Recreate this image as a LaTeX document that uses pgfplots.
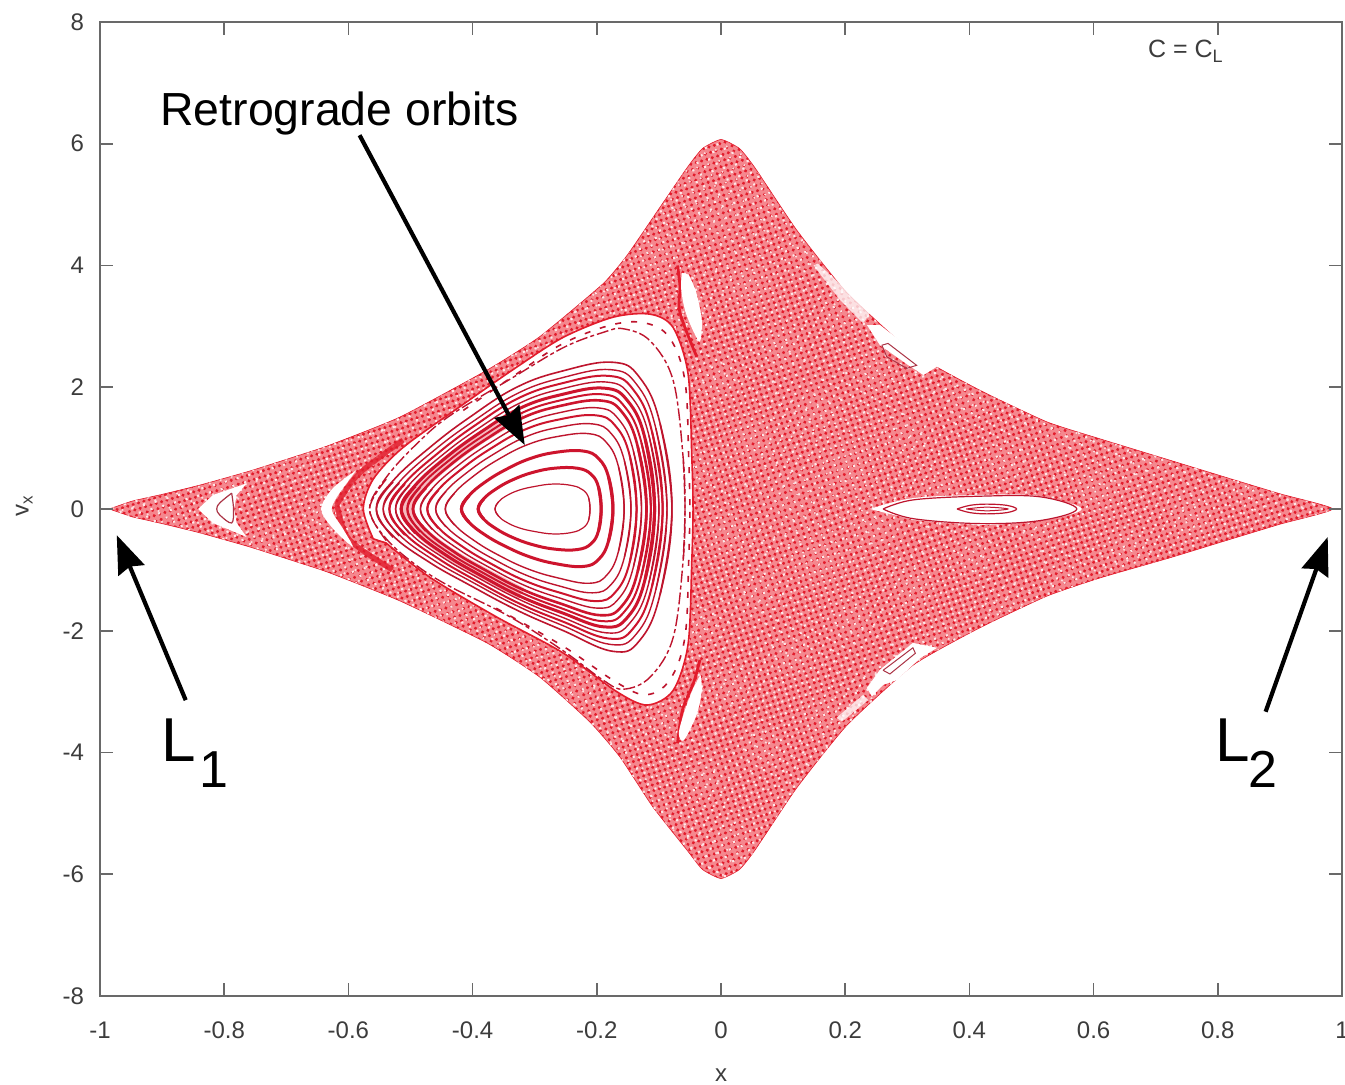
\documentclass[border=0pt]{standalone}
\usepackage{pgfplots}
\pgfplotsset{compat=1.18}
\usepackage{pgfplotstable}
\usepackage{fontspec}
\setmainfont{Liberation Sans}
\usetikzlibrary{arrows.meta,patterns.meta}
\definecolor{seabase}{RGB}{245,135,142}
\definecolor{seadark}{RGB}{226,28,44}
\definecolor{orbred}{RGB}{190,20,45}
\definecolor{thickred}{RGB}{205,20,45}
\definecolor{axgray}{RGB}{105,105,105}
\definecolor{txtgray}{RGB}{60,60,60}
\pgfplotstableread{
x y
-.985 0
-.948 .13
-.9 .24
-.84 .39
-.76 .62
-.678 .887
-.63 1.05
-.517 1.51
-.377 2.28
-.292 2.83
-.19 3.7
-.151 4.17
-.11 4.78
-.055 5.6
-.03 5.92
0 6.07
.03 5.92
.055 5.6
.122 4.58
.203 3.55
.31 2.56
.417 1.95
.525 1.43
.611 1.15
.72 .81
.8 .56
.9 .25
.985 0
.9 -.25
.8 -.56
.72 -.81
.611 -1.13
.525 -1.43
.417 -1.95
.31 -2.56
.203 -3.55
.122 -4.58
.055 -5.6
.03 -5.92
0 -6.07
-.03 -5.92
-.055 -5.6
-.11 -4.89
-.163 -4.07
-.211 -3.5
-.292 -2.76
-.377 -2.2
-.517 -1.51
-.63 -1.05
-.678 -.887
-.76 -.62
-.84 -.39
-.9 -.24
-.948 -.13
}\sea
\pgfplotstableread{
x y yl
-.358 -.12 -.12
-.364 0 0
-.358 .12 .12
-.345 .22 .22
-.325 .31 .31
-.30 .37 .37
-.27 .41 .41
-.24 .385 .385
-.222 .31 .31
-.213 .18 .18
-.211 0 0
-.213 -.18 -.18
}\oa
\pgfplotstableread{
x y yl
-.382 -.168 -.167
-.391 0 0
-.382 .168 .167
-.362 .331 .325
-.336 .477 .466
-.304 .598 .584
-.268 .670 .659
-.231 .669 .666
-.209 .569 .569
-.197 .351 .351
-.193 0 0
-.197 -.351 -.351
}\ob
\pgfplotstableread{
x y yl
-.406 -.217 -.214
-.418 0 0
-.406 .217 .214
-.380 .441 .425
-.347 .645 .614
-.308 .826 .786
-.266 .931 .899
-.222 .952 .944
-.197 .828 .828
-.181 .522 .522
-.174 0 0
-.181 -.522 -.522
}\oc
\pgfplotstableread{
x y yl
-.429 -.265 -.259
-.444 0 0
-.429 .265 .259
-.397 .552 .522
-.359 .812 .754
-.312 1.055 .980
-.263 1.191 1.131
-.212 1.236 1.220
-.184 1.087 1.087
-.165 .692 .692
-.156 0 0
-.165 -.692 -.692
}\od
\pgfplotstableread{
x y yl
-.443 -.2925 -.285
-.4595 0 0
-.443 .2925 .285
-.407 .615 .575
-.365 .9075 .830
-.3145 1.185 1.084
-.262 1.34 1.26
-.207 1.3975 1.377
-.1765 1.235 1.235
-.1555 .79 .79
-.145 0 0
-.1555 -.79 -.79
}\oe
\pgfplotstableread{
x y yl
-.455 -.317 -.308
-.473 0 0
-.455 .317 .308
-.416 .670 .620
-.371 .991 .895
-.317 1.299 1.173
-.261 1.470 1.370
-.202 1.539 1.513
-.170 1.365 1.365
-.147 .875 .875
-.136 0 0
-.147 -.875 -.875
}\of
\pgfplotstableread{
x y yl
-.465 -.337 -.326
-.484 0 0
-.465 .337 .326
-.423 .718 .659
-.375 1.063 .949
-.318 1.397 1.248
-.260 1.582 1.462
-.198 1.661 1.629
-.165 1.476 1.476
-.141 .949 .949
-.128 0 0
-.141 -.949 -.949
}\og
\pgfplotstableread{
x y yl
-.475 -.358 -.345
-.496 0 0
-.475 .358 .345
-.431 .765 .696
-.380 1.135 1.002
-.320 1.495 1.320
-.259 1.693 1.552
-.194 1.782 1.745
-.159 1.587 1.587
-.134 1.022 1.022
-.120 0 0
-.134 -1.022 -1.022
}\oh
\pgfplotstableread{
x y yl
-.484 -.375 -.361
-.505 0 0
-.484 .375 .361
-.437 .805 .728
-.384 1.194 1.044
-.321 1.576 1.377
-.258 1.786 1.627
-.191 1.884 1.843
-.155 1.679 1.679
-.128 1.083 1.083
-.113 0 0
-.128 -1.083 -1.083
}\oi
\pgfplotstableread{
x y yl
-.492 -.393 -.377
-.515 0 0
-.492 .393 .377
-.443 .844 .757
-.388 1.254 1.086
-.323 1.658 1.436
-.257 1.879 1.701
-.188 1.985 1.937
-.150 1.772 1.772
-.122 1.144 1.144
-.107 0 0
-.122 -1.144 -1.144
}\oj
\pgfplotstableread{
x y yl
-.501 -.410 -.393
-.524 0 0
-.501 .410 .393
-.449 .884 .788
-.392 1.314 1.126
-.324 1.739 1.490
-.257 1.972 1.773
-.185 2.086 2.034
-.146 1.864 1.864
-.116 1.205 1.205
-.100 0 0
-.116 -1.205 -1.205
}\ok
\pgfplotstableread{
x y yl
-.509 -.427 -.408
-.534 0 0
-.509 .427 .408
-.455 .923 .816
-.396 1.374 1.167
-.326 1.821 1.546
-.256 2.065 1.844
-.181 2.187 2.128
-.141 1.957 1.957
-.111 1.266 1.266
-.094 0 0
-.111 -1.266 -1.266
}\ol
\pgfplotstableread{
x y yl
-.518 -.444 -.423
-.544 0 0
-.518 .444 .423
-.462 .963 .845
-.400 1.433 1.204
-.327 1.902 1.598
-.255 2.158 1.914
-.178 2.289 2.225
-.136 2.049 2.049
-.105 1.327 1.327
-.087 0 0
-.105 -1.327 -1.327
}\om
\pgfplotstableread{
x y yl
-.528 -.465 -.442
-.555 0 0
-.528 .465 .442
-.469 1.01 .879
-.405 1.505 1.249
-.329 2.0 1.66
-.254 2.27 1.998
-.174 2.41 2.338
-.131 2.16 2.16
-.098 1.40 1.40
-.079 0 0
-.098 -1.40 -1.40
}\on
\pgfplotstableread{
x y yl
-.539 -.52 -.49
-.566 0 0
-.539 .52 .49
-.490 1.07 .93
-.437 1.53 1.27
-.340 2.13 1.77
-.254 2.65 2.33
-.190 2.90 2.81
-.157 2.96 2.96
-.114 2.76 2.76
-.077 2.11 2.11
-.061 .85 .85
-.058 0 0
-.061 -.85 -.85
}\dsh
\pgfplotstableread{
x y
-.560 -.49
-.576 0
-.560 .49
-.512 1.01
-.415 1.72
-.329 2.33
-.254 2.82
-.174 3.15
-.114 3.2
-.077 2.98
-.053 2.22
-.047 .85
-.045 0
-.047 -.85
-.053 -2.22
-.077 -2.98
-.119 -3.22
-.168 -3.0
-.255 -2.36
-.362 -1.77
-.469 -1.12
-.539 -.56
}\whitemain
\newcommand\orb[3]{%
\addplot[smooth,tension=.7,color=#3,line width=#2,forget plot] table[x=x,y=y] {#1};
\addplot[smooth,tension=.7,color=#3,line width=#2,forget plot] table[x=x,y expr=-\thisrow{yl}] {#1};}
\begin{document}
\begin{tikzpicture}
\useasboundingbox (0,0) rectangle (672.5pt,542pt);
\begin{axis}[
  at={(50pt,44pt)},anchor=south west,
  scale only axis,width=621pt,height=487pt,
  xmin=-1,xmax=1,ymin=-8,ymax=8,
  axis on top,
  axis line style={axgray,line width=1pt},
  tick style={axgray,line width=.8pt},
  major tick length=6.5pt,
  tick align=inside,
  xtick={-1,-.8,-.6,-.4,-.2,0,.2,.4,.6,.8,1},
  xticklabels={-1,-0.8,-0.6,-0.4,-0.2,0,0.2,0.4,0.6,0.8,1},
  ytick={-8,-6,-4,-2,0,2,4,6,8},
  yticklabels={-8,-6,-4,-2,0,2,4,6,8},
  ticklabel style={font=\fontsize{12}{14}\selectfont,text=txtgray},
  xticklabel style={yshift=-9.5pt},
  yticklabel style={xshift=-4.5pt},
  clip=false,
]
% chaotic sea
\addplot[smooth,tension=.3,fill=seabase,draw=seadark,line width=.3pt,forget plot] table[x=x,y=y] {\sea} --cycle;
\addplot[smooth,tension=.3,draw=none,pattern={Dots[radius=.85pt,distance=2.8pt,angle=17]},pattern color=seadark,forget plot] table[x=x,y=y] {\sea} --cycle;
\addplot[smooth,tension=.3,draw=none,pattern={Dots[radius=.75pt,distance=4.3pt,angle=61]},pattern color=white!80!seabase,forget plot] table[x=x,y=y] {\sea} --cycle;
\addplot[smooth,tension=.3,draw=none,pattern={Dots[radius=.6pt,distance=5.7pt,angle=107]},pattern color=white!70!seabase,forget plot] table[x=x,y=y] {\sea} --cycle;
% dense chevron next to the main island
\addplot[smooth,color=seadark,line width=2.6pt,opacity=.8,forget plot] coordinates {(-.512,1.13)(-.582,.59)(-.614,.15)(-.617,0)(-.598,-.51)(-.529,-1.0)};
% dense streaks beside the small islands
\addplot[smooth,color=seadark,line width=1.4pt,forget plot] coordinates {(-.07,4.0)(-.066,3.65)(-.066,3.22)(-.039,2.5)};
\addplot[smooth,color=seadark,line width=1.4pt,forget plot] coordinates {(-.034,-2.48)(-.044,-2.85)(-.062,-3.3)(-.07,-3.85)};
% main island
\addplot[smooth,tension=.5,fill=white,draw=seadark,line width=.8pt,forget plot] table[x=x,y=y] {\whitemain} --cycle;
% left crescent
\addplot[fill=white,draw=none,smooth,tension=.5,forget plot] coordinates {(-.587,.64)(-.625,.34)(-.644,0)(-.625,-.32)(-.593,-.62)(-.609,-.32)(-.627,0)(-.611,.31)} --cycle;
% left small island
\addplot[fill=white,draw=none,forget plot] coordinates {(-.764,.42)(-.818,.23)(-.842,0)(-.818,-.23)(-.764,-.46)(-.780,-.23)(-.784,0)(-.780,.23)} --cycle;
\addplot[color=orbred!70!gray,line width=.6pt,smooth,tension=.6,forget plot] coordinates {(-.788,.26)(-.807,.1)(-.812,0)(-.807,-.1)(-.788,-.23)(-.785,0)(-.788,.26)};
% small islands by the axis x=0
\addplot[fill=white,draw=none,smooth,tension=.5,forget plot] coordinates {(-.063,3.88)(-.064,3.6)(-.056,3.2)(-.035,2.75)(-.031,3.1)(-.04,3.56)(-.052,3.85)} --cycle;
\addplot[fill=white,draw=none,smooth,tension=.5,forget plot] coordinates {(-.033,-2.72)(-.031,-3.0)(-.04,-3.4)(-.060,-3.8)(-.068,-3.68)(-.058,-3.3)(-.045,-2.95)} --cycle;
% upper right island
\addplot[fill=white,draw=none,forget plot] coordinates {(.235,3.02)(.256,2.69)(.302,2.36)(.326,2.20)(.348,2.34)(.305,2.64)(.256,3.02)} --cycle;
\addplot[fill=white,opacity=.75,draw=none,forget plot] coordinates {(.149,4.0)(.192,3.43)(.229,3.05)(.240,3.22)(.197,3.65)(.156,4.03)} --cycle;
\addplot[color=orbred!70!gray,line width=.5pt,forget plot] coordinates {(.259,2.69)(.269,2.72)(.315,2.36)(.299,2.31)(.267,2.50)(.259,2.69)};
% lower right island
\addplot[fill=white,draw=none,forget plot] coordinates {(.235,-2.94)(.256,-2.64)(.309,-2.2)(.348,-2.28)(.321,-2.45)(.283,-2.81)(.261,-2.89)(.243,-3.08)} --cycle;
\addplot[fill=white,opacity=.75,draw=none,forget plot] coordinates {(.186,-3.43)(.229,-3.05)(.237,-3.14)(.195,-3.49)} --cycle;
\addplot[color=orbred!70!gray,line width=.5pt,forget plot] coordinates {(.261,-2.65)(.309,-2.28)(.313,-2.37)(.272,-2.71)(.261,-2.65)};
% right island
\addplot[fill=white,draw=none,smooth,tension=.6,forget plot] coordinates {(.240,0)(.31,.18)(.417,.23)(.498,.23)(.552,.12)(.581,0)(.552,-.12)(.498,-.21)(.417,-.26)(.31,-.18)} --cycle;
\addplot[color=orbred,line width=.6pt,smooth,tension=.6,forget plot] coordinates {(.261,0)(.31,.15)(.417,.21)(.514,.2)(.573,0)(.514,-.19)(.417,-.24)(.31,-.16)(.261,0)};
\addplot[color=orbred,line width=.6pt,smooth,tension=.6,forget plot] coordinates {(.38,0)(.401,.06)(.428,.08)(.46,.06)(.476,0)(.46,-.06)(.428,-.08)(.401,-.06)(.38,0)};
\addplot[color=orbred,line width=.5pt,smooth,tension=.6,forget plot] coordinates {(.395,0)(.428,.03)(.462,0)(.428,-.03)(.395,0)};
% dense band on the left of the orbit family
\addplot[smooth,color=seadark,line width=6pt,opacity=.3,forget plot] coordinates {(-.321,1.576)(-.384,1.194)(-.437,.805)(-.484,.375)(-.505,0)(-.484,-.365)(-.437,-.735)(-.384,-1.05)(-.321,-1.39)};
% orbits of the main island
\orb{\oa}{.6pt}{orbred}
\orb{\ob}{1.5pt}{thickred}
\orb{\oc}{1.5pt}{thickred}
\orb{\od}{.7pt}{orbred}
\orb{\oe}{.7pt}{orbred}
\orb{\of}{1.0pt}{thickred}
\orb{\og}{.7pt}{orbred}
\orb{\oh}{1.3pt}{thickred}
\orb{\oi}{1.0pt}{thickred}
\orb{\oj}{1.5pt}{thickred}
\orb{\ok}{.7pt}{orbred}
\orb{\ol}{1.0pt}{thickred}
\orb{\om}{.7pt}{orbred}
\orb{\on}{.8pt}{orbred}
\addplot[smooth,tension=.6,color=orbred,line width=.7pt,dash pattern=on 6pt off 1.5pt on 2pt off 1.5pt,forget plot] table[x=x,y=y] {\dsh};
\addplot[smooth,tension=.6,color=orbred,line width=.7pt,dash pattern=on 6pt off 1.5pt on 2pt off 1.5pt,forget plot] table[x=x,y expr=-\thisrow{yl}] {\dsh};
\addplot[smooth,tension=.6,color=orbred,line width=.8pt,dash pattern=on 3pt off 5pt,forget plot] coordinates {(-.415,1.62)(-.329,2.22)(-.254,2.72)(-.174,3.03)(-.12,3.05)(-.082,2.8)(-.058,2.1)(-.052,.85)(-.05,0)};
\addplot[smooth,tension=.6,color=orbred,line width=.8pt,dash pattern=on 3pt off 5pt,forget plot] coordinates {(-.362,-1.63)(-.255,-2.25)(-.168,-2.85)(-.12,-3.05)(-.082,-2.8)(-.058,-2.1)(-.052,-.85)(-.05,0)};
% annotations
\draw[black,line width=2.1pt,-{Stealth[length=19pt,width=14pt,inset=2pt]}] (axis cs:-.582,6.14) -- (axis cs:-.316,1.05);
\draw[black,line width=2.1pt,-{Stealth[length=19pt,width=14pt,inset=2pt]}] (axis cs:-.862,-3.14) -- (axis cs:-.973,-.43);
\draw[black,line width=2.1pt,-{Stealth[length=19pt,width=14pt,inset=2pt]}] (axis cs:.877,-3.33) -- (axis cs:.977,-.46);
\node[anchor=center,font=\fontsize{23.2}{27}\selectfont] at (axis cs:-.614,6.5) {Retrograde orbits};
\node[anchor=base west,inner sep=0pt,font=\fontsize{31}{36}\selectfont] at (axis cs:-.901,-4.155) {L};
\node[anchor=base west,inner sep=0pt,font=\fontsize{26}{30}\selectfont] at (axis cs:-.841,-4.58) {1};
\node[anchor=base west,inner sep=0pt,font=\fontsize{31}{36}\selectfont] at (axis cs:.795,-4.155) {L};
\node[anchor=base west,inner sep=0pt,font=\fontsize{26}{30}\selectfont] at (axis cs:.849,-4.58) {2};
\node[anchor=base west,inner sep=0pt,text=txtgray,font=\fontsize{12.5}{15}\selectfont] at (axis cs:.687,7.41) {C = C\raisebox{-2.5pt}{\fontsize{9}{10}\selectfont L}};
\node[anchor=center,text=txtgray,font=\fontsize{12}{14}\selectfont] at (axis cs:0,-9.3) {x};
\node[anchor=center,rotate=90,text=txtgray,font=\fontsize{12}{14}\selectfont] at (axis cs:-1.122,0.05) {v\raisebox{-2pt}{\fontsize{8.5}{10}\selectfont x}};
\end{axis}
\end{tikzpicture}
\end{document}
